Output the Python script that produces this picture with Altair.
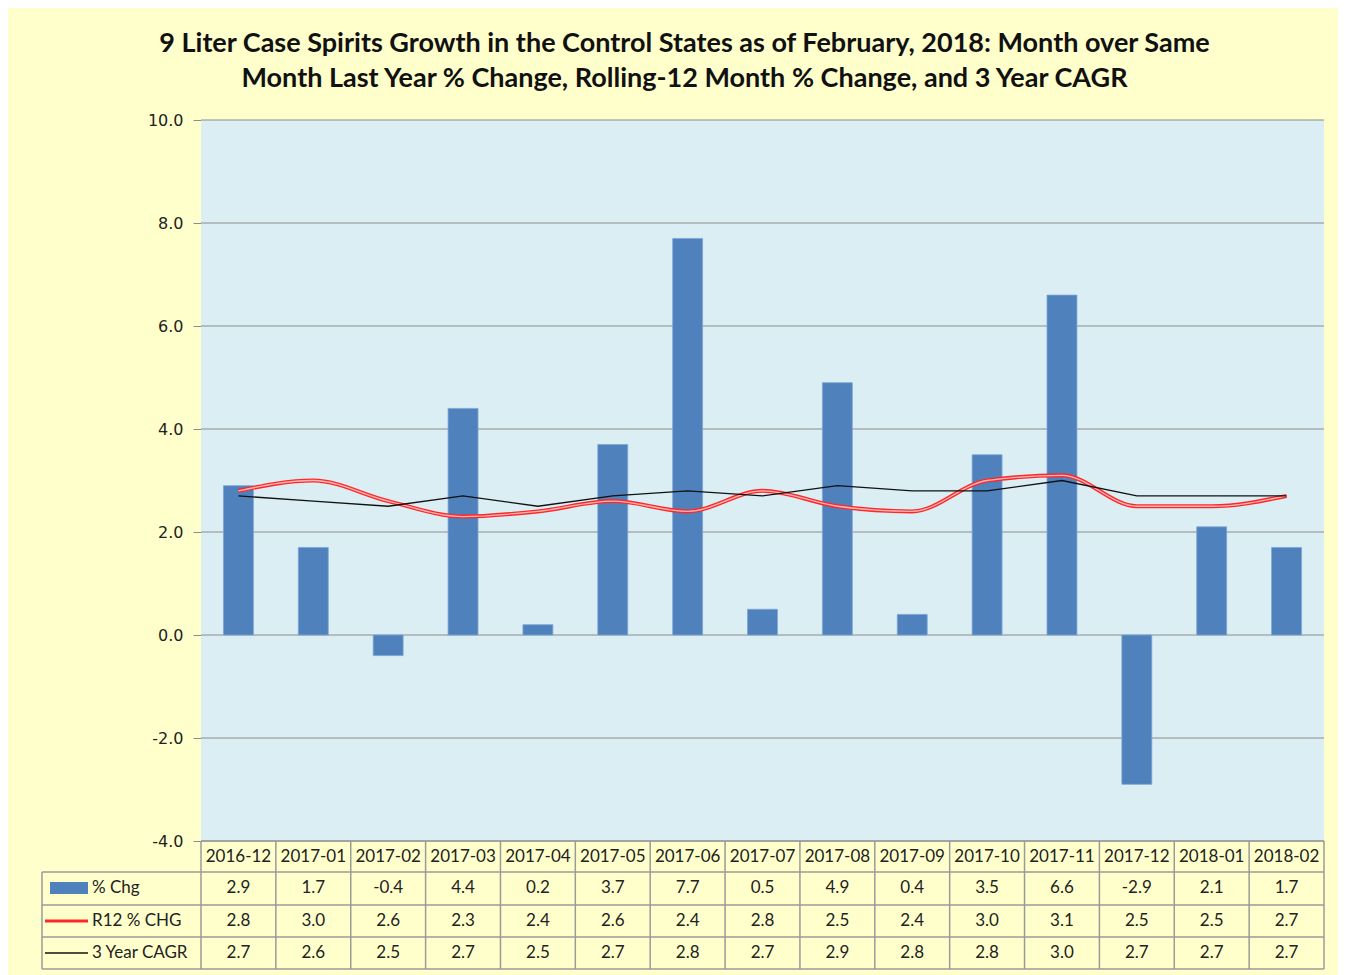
import altair as alt
import pandas as pd

months = ["2016-12", "2017-01", "2017-02", "2017-03", "2017-04", "2017-05", "2017-06",
          "2017-07", "2017-08", "2017-09", "2017-10", "2017-11", "2017-12", "2018-01", "2018-02"]
pct_chg = [2.9, 1.7, -0.4, 4.4, 0.2, 3.7, 7.7, 0.5, 4.9, 0.4, 3.5, 6.6, -2.9, 2.1, 1.7]
r12_chg = [2.8, 3.0, 2.6, 2.3, 2.4, 2.6, 2.4, 2.8, 2.5, 2.4, 3.0, 3.1, 2.5, 2.5, 2.7]
cagr_3y = [2.7, 2.6, 2.5, 2.7, 2.5, 2.7, 2.8, 2.7, 2.9, 2.8, 2.8, 3.0, 2.7, 2.7, 2.7]
y_ticks = [-4, -2, 0, 2, 4, 6, 8, 10]
row_labels = ["% Chg", "R12 % CHG", "3 Year CAGR"]

title_lines = ["9 Liter Case Spirits Growth in the Control States as of February, 2018:  Month over Same",
               "Month Last Year % Change, Rolling-12 Month % Change, and 3 Year CAGR"]

# layout (pixels)
W, PH = 1123, 721          # plot width / plot height
TH = 849                   # plot + table height
PAD_L, PAD_T, PAD_R, PAD_B = 193, 112, 14, 6
LEFT = -159                # left edge of the table's label column
row_edges = [752, 785, 817, 849]
row_centers = [768, 801, 833]
header_center = 737

BLUE = "#4F81BD"
GRID = "#8C8C8C"
TABLE_LINE = "#9A9A9A"
TFONT = "Lato"
MINUS = "\u2212"

df = pd.DataFrame({"month": months, "pct": pct_chg, "r12": r12_chg, "cagr": cagr_3y})
ticks_df = pd.DataFrame({"t": y_ticks})
one = pd.DataFrame({"a": [0]})

xband = alt.X("month:N", sort=months, scale=alt.Scale(paddingInner=0, paddingOuter=0), axis=None)
yscale = alt.Scale(domain=[-4, 10], range=[PH, 0], nice=False, zero=False)

background = alt.Chart(one).mark_rect(color="#DBEEF4").encode(
    x=alt.value(0), x2=alt.value(W),
    y=alt.Y(datum=10, type="quantitative", scale=yscale, title=None,
            axis=alt.Axis(values=y_ticks, grid=False, domainColor=GRID, tickColor=GRID,
                          labelExpr=f"replace(format(datum.value, '.1f'), '{MINUS}', '-')",
                          tickSize=8, labelFont="DejaVu Sans", labelFontSize=16, labelColor="#222",
                          labelPadding=10, title=None)),
    y2=alt.Y2(datum=-4),
)

grid = alt.Chart(ticks_df).mark_rule(color=GRID, strokeWidth=1).encode(
    y=alt.Y("t:Q", title=None), x=alt.value(0), x2=alt.value(W)
)

bars = alt.Chart(df).mark_bar(color=BLUE, width={"band": 0.4}, stroke="#7FA6D6", strokeWidth=0.8).encode(
    x=xband, y=alt.Y("pct:Q", title=None), y2=alt.Y2(datum=0)
)

r12_outer = alt.Chart(df).mark_line(color="#FF2828", strokeWidth=4, interpolate="monotone").encode(
    x=xband, y=alt.Y("r12:Q", title=None)
)
r12_inner = alt.Chart(df).mark_line(color="#FFB8B8", strokeWidth=1.3, interpolate="monotone").encode(
    x=xband, y=alt.Y("r12:Q", title=None)
)
cagr_line = alt.Chart(df).mark_line(color="#111111", strokeWidth=1.3).encode(
    x=xband, y=alt.Y("cagr:Q", title=None)
)

# ---- data table ----
vrules = alt.Chart(df).mark_rule(color=TABLE_LINE, strokeWidth=1.5).encode(
    x=alt.X("month:N", sort=months, bandPosition=0, axis=None), y=alt.value(PH), y2=alt.value(TH)
)
vrule_right = alt.Chart(one).mark_rule(color=TABLE_LINE, strokeWidth=1.5).encode(
    x=alt.value(W), y=alt.value(PH), y2=alt.value(TH)
)
vrule_left = alt.Chart(one).mark_rule(color=TABLE_LINE, strokeWidth=1.5).encode(
    x=alt.value(LEFT), y=alt.value(row_edges[0]), y2=alt.value(TH)
)
hrule_top = alt.Chart(one).mark_rule(color=TABLE_LINE, strokeWidth=1.5).encode(
    x=alt.value(0), x2=alt.value(W), y=alt.value(PH)
)
hrules = [
    alt.Chart(one).mark_rule(color=TABLE_LINE, strokeWidth=1.5).encode(
        x=alt.value(LEFT), x2=alt.value(W), y=alt.value(e))
    for e in row_edges
]

header = alt.Chart(df).mark_text(font=TFONT, fontSize=17, color="#222").encode(
    x=xband, y=alt.value(header_center), text="month:N"
)
cells = [
    alt.Chart(df).transform_calculate(
        lbl=f"replace(format(datum.{col}, '.1f'), '{MINUS}', '-')"
    ).mark_text(font=TFONT, fontSize=17, color="#222").encode(
        x=xband, y=alt.value(yc), text="lbl:N")
    for col, yc in zip(["pct", "r12", "cagr"], row_centers)
]
labels = [
    alt.Chart(one).mark_text(font=TFONT, fontSize=17, color="#222", align="left").encode(
        x=alt.value(-109), y=alt.value(yc), text=alt.value(lab))
    for lab, yc in zip(row_labels, row_centers)
]
sym_bar = alt.Chart(one).mark_rect(color=BLUE).encode(
    x=alt.value(-151), x2=alt.value(-113), y=alt.value(row_centers[0] - 6), y2=alt.value(row_centers[0] + 6)
)
sym_r12 = alt.Chart(one).mark_rule(color="#FF2828", strokeWidth=3).encode(
    x=alt.value(-156), x2=alt.value(-113), y=alt.value(row_centers[1])
)
sym_cagr = alt.Chart(one).mark_rule(color="#111111", strokeWidth=1.3).encode(
    x=alt.value(-156), x2=alt.value(-113), y=alt.value(row_centers[2])
)

chart = alt.layer(
    background, grid, bars, r12_outer, r12_inner, cagr_line,
    vrules, vrule_right, vrule_left, hrule_top, *hrules,
    header, *cells, *labels, sym_bar, sym_r12, sym_cagr,
).properties(
    width=W, height=TH,
    title=alt.TitleParams(title_lines, font=TFONT, fontSize=27, fontWeight="bold", color="#111",
                          anchor="middle", dx=-78, offset=19, lineHeight=35),
    autosize=alt.AutoSizeParams(type="none"),
    padding={"left": PAD_L, "top": PAD_T, "right": PAD_R, "bottom": PAD_B},
    background="#FFFFCC",
).configure_view(stroke=None)

chart.save("out.html", embed_options={"renderer": "svg", "actions": False})
